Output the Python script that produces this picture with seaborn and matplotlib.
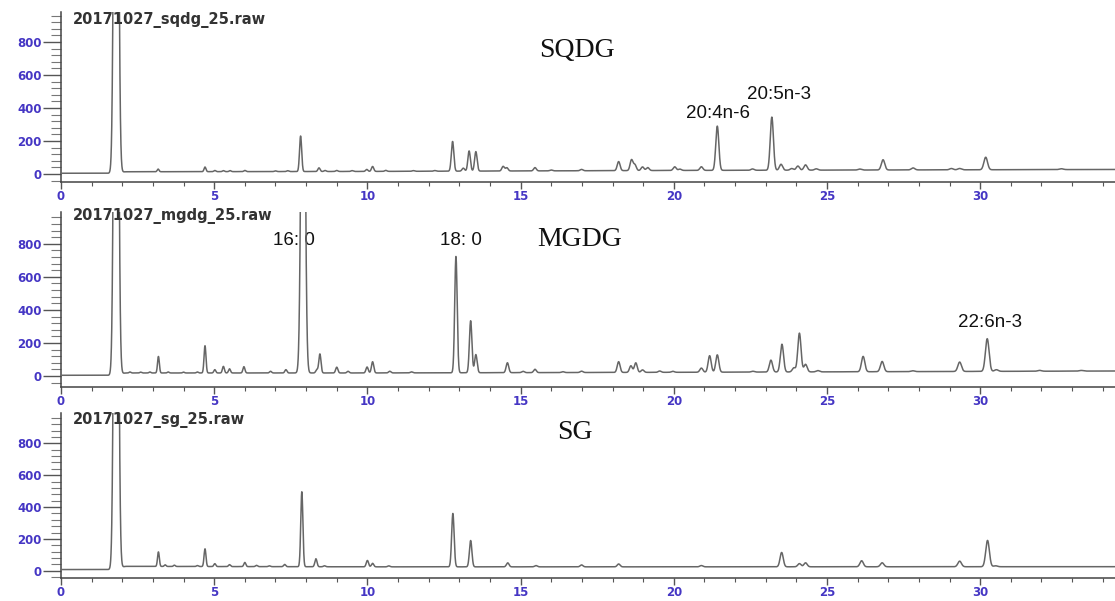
import numpy as np
import pandas as pd
import matplotlib
matplotlib.use("Agg")
import matplotlib.pyplot as plt
from matplotlib.ticker import MultipleLocator
import seaborn as sns

# peak tables: retention time (min), height above baseline
sqdg_rt = [1.80, 3.17, 4.70, 5.02, 5.30, 5.52, 6.00, 7.00, 7.40, 7.82, 8.42, 8.62, 9.00, 9.50,
           9.98, 10.17, 10.60, 11.50, 12.20, 12.78, 13.13, 13.32, 13.54, 14.43, 14.55, 15.47,
           16.00, 16.99, 18.20, 18.62, 18.73, 18.98, 19.15, 20.03, 20.20, 20.90, 21.42, 22.57,
           23.20, 23.50, 23.85, 24.05, 24.30, 24.65, 26.07, 26.83, 27.81, 29.06, 29.33, 30.18, 32.65]
sqdg_height = [5000, 16, 28, 7, 6, 6, 7, 4, 5, 215, 22, 6, 6, 5,
               12, 30, 6, 4, 4, 180, 18, 122, 118, 28, 20, 20,
               5, 8, 55, 65, 35, 22, 18, 22, 8, 22, 268, 8,
               322, 36, 10, 25, 32, 8, 6, 62, 12, 8, 8, 76, 5]

mgdg_rt = [1.80, 2.25, 2.60, 2.90, 3.18, 3.50, 4.00, 4.45, 4.70, 5.02, 5.30, 5.50, 5.97, 6.84,
           7.34, 7.90, 8.35, 8.45, 9.00, 9.37, 9.99, 10.17, 10.73, 11.44, 12.89, 13.37, 13.54,
           14.57, 15.08, 15.47, 16.38, 16.99, 18.20, 18.60, 18.76, 18.98, 19.54, 19.97, 20.90,
           21.17, 21.42, 22.58, 23.17, 23.53, 23.92, 24.10, 24.30, 24.70, 26.18, 26.80, 27.80,
           29.33, 30.23, 30.53, 31.94, 33.30]
mgdg_height = [5000, 6, 5, 6, 100, 6, 5, 6, 165, 20, 40, 25, 38, 10,
               20, 3000, 20, 115, 35, 10, 36, 68, 10, 6, 705, 315, 110,
               60, 8, 20, 5, 8, 65, 40, 58, 15, 8, 6, 25,
               100, 105, 5, 72, 168, 25, 235, 46, 8, 93, 62, 5,
               57, 198, 10, 5, 4]

sg_rt = [1.80, 3.18, 3.40, 3.70, 4.45, 4.70, 5.02, 5.50, 6.00, 6.38, 6.80, 7.30, 7.86, 8.32,
         8.60, 10.00, 10.17, 10.70, 12.79, 13.37, 14.58, 15.50, 16.99, 18.20, 20.90, 23.52,
         24.10, 24.30, 26.13, 26.80, 29.33, 30.24, 30.50]
sg_height = [5000, 91, 10, 8, 6, 111, 18, 12, 26, 8, 5, 14, 470, 50,
             6, 40, 22, 6, 335, 165, 25, 8, 12, 18, 8, 90,
             20, 25, 38, 25, 35, 165, 6]

# baseline level at a few read-off times
base_t = [0, 1.70, 2.10, 10, 20, 34.5]
sqdg_base = [5, 5, 14, 16, 22, 28]
mgdg_base = [4, 4, 18, 18, 22, 30]
sg_base = [8, 8, 28, 25, 25, 26]

names = ["20171027_sqdg_25.raw", "20171027_mgdg_25.raw", "20171027_sg_25.raw"]
classes = ["SQDG", "MGDG", "SG"]

# peak labels: text, time, intensity
sqdg_labels = [("20:4n-6", 21.43, 370), ("20:5n-3", 23.43, 485)]
mgdg_labels = [("16: 0", 7.60, 818), ("18: 0", 13.05, 818), ("22:6n-3", 30.31, 321)]
sg_labels = []

panels = [
    (sqdg_rt, sqdg_height, sqdg_base, sqdg_labels, 16.84, 751, 933, (-48, 982)),
    (mgdg_rt, mgdg_height, mgdg_base, mgdg_labels, 16.93, 824, 970, (-67, 993)),
    (sg_rt, sg_height, sg_base, sg_labels, 16.77, 867, 945, (-45, 990)),
]

t = np.arange(0, 34.45, 0.004)


def trace(rts, heights, base):
    y = np.interp(t, base_t, base)
    for rt, h in zip(rts, heights):
        s = 0.06 if h >= 3000 else 0.026 + 0.0011 * rt
        y = y + h * np.exp(-0.5 * ((t - rt) / s) ** 2)
    return y


sns.set_style("ticks")
plt.rcParams["font.family"] = ["Liberation Sans", "DejaVu Sans"]

fig = plt.figure(figsize=(11.15, 6.01), dpi=100)
W, H = 1115, 601
boxes = [(12, 182), (212, 387), (413, 578)]
blue = "#4536c4"

for i, (rts, hts, base, labels, cx, cy, ty, ylim) in enumerate(panels):
    top, bot = boxes[i]
    ax = fig.add_axes([61 / W, 1 - bot / H, (W - 61) / W, (bot - top) / H])
    df = pd.DataFrame({"time": t, "signal": trace(rts, hts, base)})
    sns.lineplot(data=df, x="time", y="signal", ax=ax, color="#666666",
                 linewidth=1.1, estimator=None)
    ax.set_xlim(0, 34.4)
    ax.set_ylim(*ylim)
    ax.set_xlabel("")
    ax.set_ylabel("")
    sns.despine(ax=ax)
    for sp in ["left", "bottom"]:
        ax.spines[sp].set_color("#444444")
        ax.spines[sp].set_linewidth(1.1)
    ax.xaxis.set_major_locator(MultipleLocator(5))
    ax.xaxis.set_minor_locator(MultipleLocator(1))
    ax.yaxis.set_major_locator(MultipleLocator(200))
    ax.yaxis.set_minor_locator(MultipleLocator(40))
    ax.tick_params(axis="y", which="major", length=13, width=1.0, color="#555555", pad=1,
                   labelsize=8.5, labelcolor=blue)
    ax.tick_params(axis="y", which="minor", length=7, width=0.8, color="#777777")
    ax.tick_params(axis="x", which="major", length=5, width=1.0, color="#555555", pad=1,
                   labelsize=8.5, labelcolor=blue)
    ax.tick_params(axis="x", which="minor", length=3, width=0.8, color="#555555")
    for lab in ax.get_xticklabels() + ax.get_yticklabels():
        lab.set_fontweight("bold")
        lab.set_family(["DejaVu Sans"])
    ax.text(0.39, ty, names[i], fontsize=10.5, fontweight="bold", color="#333333",
            family=["DejaVu Sans"], ha="left", va="center")
    ax.text(cx, cy, classes[i], fontsize=20, family=["Liberation Serif", "DejaVu Serif"],
            ha="center", va="center", color="#111111")
    for txt, x, y in labels:
        ax.text(x, y, txt, fontsize=13.5, ha="center", va="center", color="#111111",
                zorder=1)
    for ln in ax.lines:
        ln.set_zorder(3)

fig.savefig("out.png", dpi=100, facecolor="white")
